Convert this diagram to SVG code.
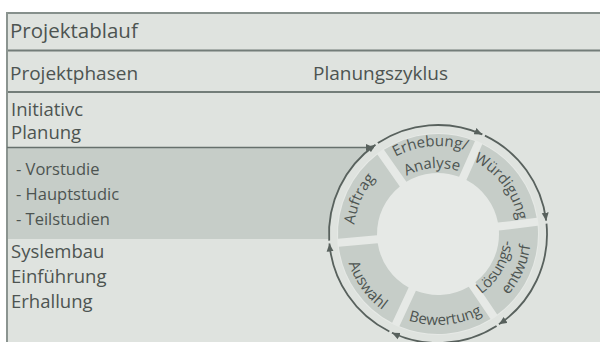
<svg xmlns="http://www.w3.org/2000/svg" width="600" height="342" viewBox="0 0 600 342">
<style>
text{font-family:"Open Sans","Noto Sans","Liberation Sans",sans-serif;fill:#4d5451}
.t{font-size:20.5px}
.h{font-size:19px}
.m{font-size:18.5px}
.s{font-size:16.5px}
.r{font-size:15px}
.seg{fill:#c6cdc8}
.arc{fill:none;stroke:#58615d;stroke-width:1.8}
.rule{stroke:#737d79;stroke-width:2.2}
</style>
<defs>
<marker id="ah" markerUnits="userSpaceOnUse" markerWidth="10" markerHeight="8" refX="8" refY="4" orient="auto">
<path d="M0,0.5 L8,4 L0,7.5 Z" fill="#58615d"/>
</marker>
<path id="pErh" d="M350.33,226.33 A88,88 0 0 1 523.00,211.22"/>
<path id="pAna" d="M372.25,228.25 A66,66 0 0 1 501.75,216.92"/>
<path id="pWue" d="M401.23,161.83 A81,81 0 0 1 497.24,289.24"/>
<path id="pAuf" d="M391.03,303.64 A84,84 0 0 1 458.32,152.49"/>
<path id="pLoe" d="M412.69,303.54 A74,74 0 0 0 485.57,177.31"/>
<path id="pEnt" d="M415.50,324.24 A93,93 0 0 0 490.00,156.90"/>
<path id="pBew" d="M346.24,258.59 A96,96 0 0 0 532.64,242.28"/>
<path id="pAus" d="M370.38,168.70 A94,94 0 0 0 479.21,318.49"/>
</defs>
<rect x="0" y="0" width="600" height="342" fill="#ffffff"/>
<rect x="7" y="13" width="600" height="340" fill="#dfe3df"/>
<g id="band">
<path d="M7,148 H373 A109,109 0 0 0 330,239 H7 Z" fill="#c6cdc8"/>
</g>
<g id="frame">
<line x1="7" y1="13" x2="600" y2="13" stroke="#86908c" stroke-width="2"/>
<line class="rule" x1="7" y1="50.5" x2="600" y2="50.5"/>
<line class="rule" x1="7" y1="92" x2="600" y2="92"/>
<line x1="7" y1="12" x2="7" y2="342" stroke="#8b9490" stroke-width="2"/>
</g>
<g id="header">
<text class="t" x="10" y="38">Projektablauf</text>
<text class="h" x="10" y="80">Projektphasen</text>
<text class="h" x="313" y="80">Planungszyklus</text>
</g>
<g id="phasen">
<text class="m" x="11" y="116">Initiativc</text>
<text class="m" x="11" y="139">Planung</text>
<text class="s" x="16" y="175">- Vorstudie</text>
<text class="s" x="16" y="200">- Hauptstudic</text>
<text class="s" x="16" y="225">- Teilstudien</text>
<text class="m" x="11" y="258">Syslembau</text>
<text class="m" x="11" y="283">Einführung</text>
<text class="m" x="11" y="308">Erhallung</text>
</g>
<circle cx="438" cy="234" r="101" fill="#e6e9e6"/>
<g id="erhebung">
<path class="seg" d="M383.96,149.86 A100,100 0 0 1 474.99,141.09 L459.11,176.77 A61,61 0 0 0 406.37,181.84 Z"/>
<text class="r"><textPath href="#pErh" startOffset="50%" text-anchor="middle">Erhebung/</textPath></text>
<text class="r"><textPath href="#pAna" startOffset="50%" text-anchor="middle">Analyse</textPath></text>
</g>
<g id="wuerdigung">
<path class="seg" d="M482.29,144.34 A100,100 0 0 1 536.69,217.86 L497.93,222.61 A61,61 0 0 0 466.41,180.02 Z"/>
<text class="r"><textPath href="#pWue" startOffset="50%" text-anchor="middle">Würdigung</textPath></text>
</g>
<g id="loesungsentwurf">
<path class="seg" d="M537.66,225.79 A100,100 0 0 1 497.19,314.61 L475.35,282.23 A61,61 0 0 0 498.90,230.55 Z"/>
<text class="r"><textPath href="#pLoe" startOffset="50%" text-anchor="middle">Lösungs-</textPath></text>
<text class="r"><textPath href="#pEnt" startOffset="50%" text-anchor="middle">entwurf</textPath></text>
</g>
<g id="bewertung">
<path class="seg" d="M490.56,319.07 A100,100 0 0 1 399.39,326.25 L415.90,290.86 A61,61 0 0 0 468.72,286.70 Z"/>
<text class="r"><textPath href="#pBew" startOffset="50%" text-anchor="middle">Bewertung</textPath></text>
</g>
<g id="auswahl">
<path class="seg" d="M392.15,322.87 A100,100 0 0 1 338.81,246.69 L377.71,243.29 A61,61 0 0 0 408.65,287.48 Z"/>
<text class="r"><textPath href="#pAus" startOffset="50%" text-anchor="middle">Auswahl</textPath></text>
</g>
<g id="auftrag">
<path class="seg" d="M338.11,238.73 A100,100 0 0 1 377.41,154.44 L399.81,186.43 A61,61 0 0 0 377.01,235.32 Z"/>
<text class="r"><textPath href="#pAuf" startOffset="50%" text-anchor="middle">Auftrag</textPath></text>
</g>
<g id="connectors">
<line x1="7" y1="147.5" x2="374" y2="147.5" stroke="#66706c" stroke-width="1.5" marker-end="url(#ah)"/>
<path class="arc" d="M329.20,240.65 A109,109 0 0 1 375.48,144.71" marker-end="url(#ah)"/>
<path class="arc" d="M377.84,143.11 A109,109 0 0 1 482.33,134.42" marker-end="url(#ah)"/>
<path class="arc" d="M484.93,135.62 A109,109 0 0 1 546.19,220.72" marker-end="url(#ah)"/>
<path class="arc" d="M546.50,223.55 A109,109 0 0 1 498.95,324.37" marker-end="url(#ah)"/>
<path class="arc" d="M496.57,325.93 A109,109 0 0 1 391.93,332.79" marker-end="url(#ah)"/>
<path class="arc" d="M389.36,331.55 A109,109 0 0 1 329.42,243.50" marker-end="url(#ah)"/>
</g>
</svg>
